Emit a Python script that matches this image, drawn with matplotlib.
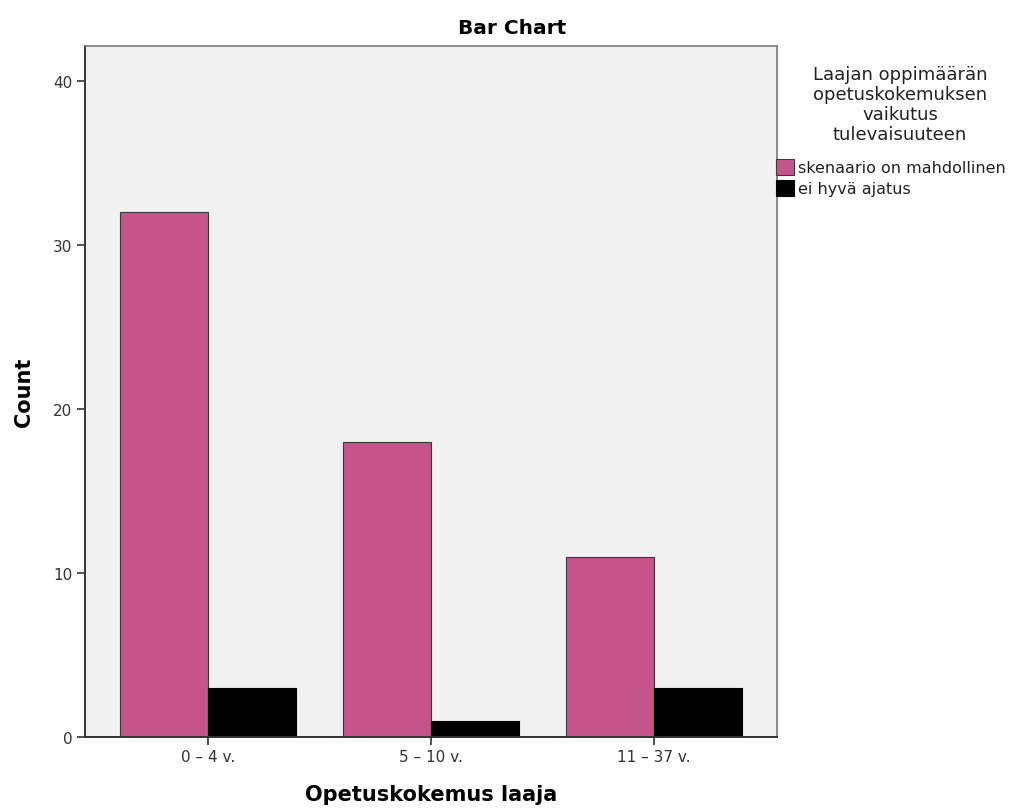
import numpy as np
import matplotlib
matplotlib.use('Agg')
import matplotlib.pyplot as plt

font = {'family': 'DejaVu Sans'}
matplotlib.rc('font', **font)

# data
categories = ['0 – 4 v.', '5 – 10 v.', '11 – 37 v.']
series = ['skenaario on mahdollinen', 'ei hyvä ajatus']
counts_possible = [32, 18, 11]
counts_bad = [3, 1, 3]
yticks = [0, 10, 20, 30, 40]

c_pink = '#c5548b'
c_black = '#000000'
bg = '#f1f1f1'

fig = plt.figure(figsize=(10.32, 8.12), dpi=100)
ax = fig.add_axes([85/1032, 74/812, (777-85)/1032, (738-47)/812])
ax.set_facecolor(bg)

x = np.arange(len(categories))
w = 0.395
ax.bar(x - w/2, counts_possible, width=w, color=c_pink, edgecolor='#3a3a3a',
       linewidth=0.8, label=series[0], zorder=2)
ax.bar(x + w/2, counts_bad, width=w, color=c_black, edgecolor='#000000',
       linewidth=0.8, label=series[1], zorder=2)

ax.set_xlim(-0.55, 2.55)
ax.set_ylim(0, 42.15)
ax.set_yticks(yticks)
ax.set_xticks(x)
ax.set_xticklabels(categories)
ax.tick_params(axis='both', direction='out', length=6, width=1.2, color='#333333',
               labelsize=11, labelcolor='#333333', pad=3)

for s in ['left', 'bottom']:
    ax.spines[s].set_color('#333333')
    ax.spines[s].set_linewidth(1.4)
for s in ['top', 'right']:
    ax.spines[s].set_color('#7a7a7a')
    ax.spines[s].set_linewidth(1.2)

ax.set_ylabel('Count', fontsize=15, fontweight='bold', labelpad=14)
ax.set_xlabel('Opetuskokemus laaja', fontsize=15, fontweight='bold', labelpad=14)
fig.text(0.496, 0.965, 'Bar Chart', ha='center', va='center', fontsize=14.5,
         fontweight='bold')

# legend title drawn as text, SPSS-style
fig.text(900/1032, 746/812, 'Laajan oppimäärän\nopetuskokemuksen\nvaikutus\ntulevaisuuteen',
         ha='center', va='top', fontsize=13, linespacing=1.15, color='#222222')
leg = fig.legend(loc='upper left', bbox_to_anchor=(776/1032, 652/812), frameon=False,
                 fontsize=11.5, handlelength=1.1, handleheight=1.15, handletextpad=0.25,
                 labelspacing=0.3, borderaxespad=0, borderpad=0)
for t in leg.get_texts():
    t.set_color('#222222')

plt.savefig('out.png', dpi=100)
